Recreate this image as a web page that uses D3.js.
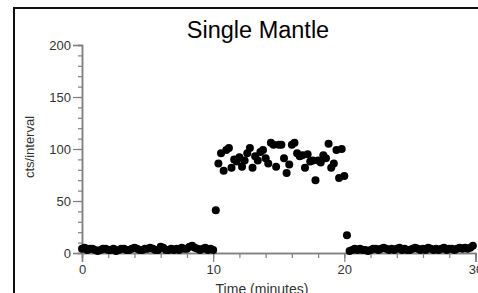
<!DOCTYPE html>
<html>
<head>
<meta charset="utf-8">
<script src="https://cdn.jsdelivr.net/npm/d3@7"></script>
<style>
  body { margin: 0; background: #fff; }
  svg { display: block; font-family: "Liberation Sans", Arial, sans-serif; }
</style>
</head>
<body>
<svg width="478" height="293"></svg>
<script>
// sampling interval (minutes)
let interval = 0.2;

// counts per interval, one segment at a time
let baseBefore = [4, 5, 3, 4, 4, 3, 2, 3, 4, 4, 3, 3, 4, 2, 3, 4, 4, 3, 3, 4,
  5, 4, 3, 3, 4, 4, 5, 4, 3, 3, 6, 5, 3, 3, 4, 3, 4, 3, 5, 4,
  4, 6, 7, 5, 4, 3, 4, 5, 3, 4, 3]; // t = 0 .. 10.0
let riseCounts = [41]; // t = 10.2
let plateau = [86, 96, 79, 99, 101, 82, 90, 88, 92, 83,
  89, 96, 101, 82, 93, 89, 97, 99, 91, 86,
  106, 104, 83, 104, 104, 91, 77, 85, 104, 106,
  96, 93, 94, 82, 95, 88, 89, 70, 89, 87,
  94, 91, 105, 82, 86, 99, 72, 100, 74]; // t = 10.4 .. 20.0
let fallCounts = [17]; // t = 20.2
let baseAfter = [2, 3, 4, 3, 4, 3, 3, 2, 3, 4, 4, 3, 4, 5, 4, 3, 4, 3, 4, 5,
  3, 4, 3, 3, 4, 5, 4, 3, 4, 3, 5, 4, 3, 4, 3, 4, 5, 3, 4, 4,
  3, 4, 5, 4, 5, 4, 5, 7]; // t = 20.4 .. 29.8

let xTicks = [0, 10, 20, 30];
let yTicks = [0, 50, 100, 150, 200];

let title = "Single Mantle";
let xTitle = "Time (minutes)";
let yTitle = "cts/interval";

// build points
let counts = [].concat(baseBefore, riseCounts, plateau, fallCounts, baseAfter);
let points = counts.map((c, i) => ({ t: i * interval, c: c }));

let svg = d3.select("svg");

let xScale = d3.scaleLinear().domain([0, 30]).range([82, 475.5]);
let yScale = d3.scaleLinear().domain([0, 200]).range([253, 45]);

let axisColor = "#808080";
let textColor = "#333";

// outer frame
svg.append("rect")
  .attr("x", 14).attr("y", 8)
  .attr("width", 520).attr("height", 400)
  .attr("fill", "none")
  .attr("stroke", "#111")
  .attr("stroke-width", 2);

// title
svg.append("text")
  .attr("x", 258).attr("y", 38)
  .attr("text-anchor", "middle")
  .style("font-size", "23.5px")
  .attr("fill", "#000")
  .text(title);

// minor ticks
let xMinor = d3.axisBottom(xScale).tickValues(d3.range(0, 30.01, 2)).tickSize(5).tickFormat("");
let yMinor = d3.axisLeft(yScale).tickValues(d3.range(0, 200.01, 10)).tickSize(4).tickFormat("");

svg.append("g").attr("transform", "translate(0," + yScale(0) + ")").call(xMinor);
svg.append("g").attr("transform", "translate(" + xScale(0) + ",0)").call(yMinor);

// major axes
let xAxis = d3.axisBottom(xScale).tickValues(xTicks).tickSize(9).tickPadding(3).tickFormat(d3.format("d"));
let yAxis = d3.axisLeft(yScale).tickValues(yTicks).tickSize(9).tickPadding(2).tickFormat(d3.format("d"));

svg.append("g").attr("class", "axis").attr("transform", "translate(0," + yScale(0) + ")").call(xAxis);
svg.append("g").attr("class", "axis").attr("transform", "translate(" + xScale(0) + ",0)").call(yAxis);

svg.selectAll(".domain").attr("stroke", axisColor).attr("stroke-width", 1.5);
svg.selectAll(".tick line").attr("stroke", axisColor).attr("stroke-width", 1.2);
svg.selectAll(".axis text").attr("fill", textColor).style("font-size", "13px");

// axis titles
svg.append("text")
  .attr("x", 262).attr("y", 294)
  .attr("text-anchor", "middle")
  .style("font-size", "14px")
  .attr("fill", textColor)
  .text(xTitle);

svg.append("text")
  .attr("transform", "translate(34,147) rotate(-90)")
  .attr("text-anchor", "middle")
  .style("font-size", "13px")
  .attr("fill", textColor)
  .text(yTitle);

// data points
svg.append("g")
  .selectAll("circle")
  .data(points)
  .enter()
  .append("circle")
  .attr("cx", (d) => xScale(d.t))
  .attr("cy", (d) => yScale(d.c))
  .attr("r", 4)
  .attr("fill", "#000");
</script>
</body>
</html>
